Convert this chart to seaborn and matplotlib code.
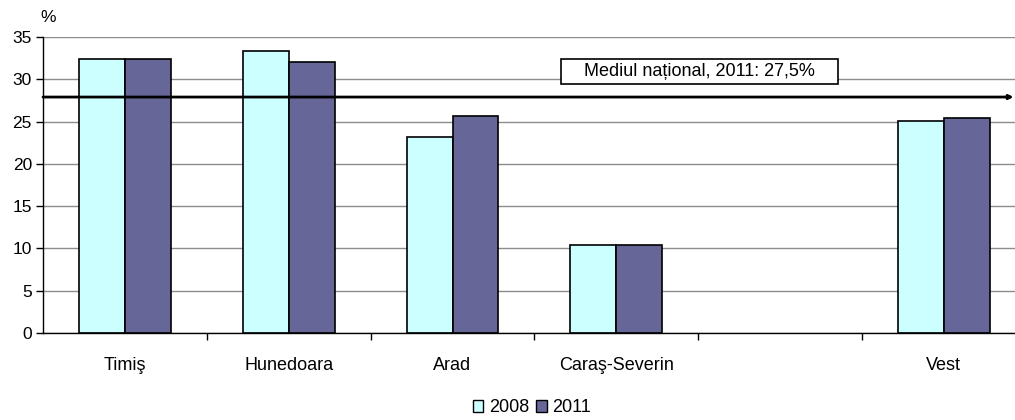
import matplotlib
matplotlib.use("Agg")
import matplotlib.pyplot as plt
import seaborn as sns
import pandas as pd
import numpy as np
from matplotlib.patches import Patch, Rectangle

categories = ["Timiş", "Hunedoara", "Arad", "Caraş-Severin", "", "Vest"]
years = ["2008", "2011"]
values_2008 = [32.4, 33.4, 23.2, 10.4, None, 25.1]
values_2011 = [32.4, 32.0, 25.6, 10.4, None, 25.4]
national_avg_line = 27.9
national_label = "Mediul național, 2011: 27,5%"
colors = ["#CCFFFF", "#666699"]
yticks = [0, 5, 10, 15, 20, 25, 30, 35]

rows = []
for cat, v8, v11 in zip(categories, values_2008, values_2011):
    if v8 is not None:
        rows.append({"region": cat, "year": "2008", "value": v8})
    if v11 is not None:
        rows.append({"region": cat, "year": "2011", "value": v11})
df = pd.DataFrame(rows)

sns.set_theme(style="white")
plt.rcParams["font.family"] = ["Liberation Sans", "DejaVu Sans"]
plt.rcParams["text.color"] = "black"
plt.rcParams["xtick.color"] = "black"
plt.rcParams["ytick.color"] = "black"
plt.rcParams["xtick.labelcolor"] = "black"
plt.rcParams["ytick.labelcolor"] = "black"

fig = plt.figure(figsize=(10.15, 4.2), dpi=100)
ax = fig.add_axes([43 / 1015, (420 - 333) / 420, 1 - 43 / 1015, (333 - 37) / 420])

sns.barplot(data=df, x="region", y="value", hue="year", order=categories,
            hue_order=years, palette=colors, width=0.56, edgecolor="black",
            linewidth=1.2, ax=ax, legend=False, errorbar=None, saturation=1)

ax.set_ylim(0, 35)
ax.set_xlim(-0.5, 5.434)
ax.set_yticks(yticks)
ax.yaxis.grid(True, color="#8c8c8c", linewidth=1)
ax.set_axisbelow(True)
ax.set_xlabel("")
ax.set_ylabel("")
for s in ["top", "right"]:
    ax.spines[s].set_visible(False)
ax.spines["left"].set_color("black")
ax.spines["bottom"].set_color("black")
ax.spines["left"].set_linewidth(1)
ax.spines["bottom"].set_linewidth(1)

ax.tick_params(axis="y", which="major", left=True, length=5, width=1,
               color="black", labelcolor="black", direction="out",
               labelsize=12.5, pad=3)
ax.tick_params(axis="x", which="major", bottom=False, length=0,
               labelcolor="black", labelsize=13, pad=17)
ax.set_xticks(np.arange(0.5, 5.0, 1.0), minor=True)
ax.tick_params(axis="x", which="minor", bottom=True, length=5, width=1,
               color="black", direction="out")

ax.annotate("", xy=(5.425, national_avg_line), xytext=(-0.5, national_avg_line),
            arrowprops=dict(arrowstyle="-|>", color="black", lw=2,
                            mutation_scale=6, shrinkA=0, shrinkB=0),
            annotation_clip=False, zorder=5)

# label box
ax.add_patch(Rectangle((2.662, 29.44), 4.353 - 2.662, 32.4 - 29.44,
                       facecolor="white", edgecolor="black", linewidth=1.2,
                       zorder=6))
ax.text((2.662 + 4.353) / 2, (29.44 + 32.4) / 2, national_label, ha="center",
        va="center", fontsize=13, color="black", zorder=7)

fig.text(40 / 1015, 1 - 18 / 420, "%", fontsize=12.5, ha="left", va="center",
         color="black")

handles = [Patch(facecolor=c, edgecolor="black", linewidth=1) for c in colors]
fig.legend(handles, years, loc="center", bbox_to_anchor=(532 / 1015, 12 / 420),
           ncol=2, frameon=False, fontsize=13, handlelength=0.6,
           handleheight=0.6, handletextpad=0.3, columnspacing=0.4)

fig.savefig("out.png", dpi=100)
